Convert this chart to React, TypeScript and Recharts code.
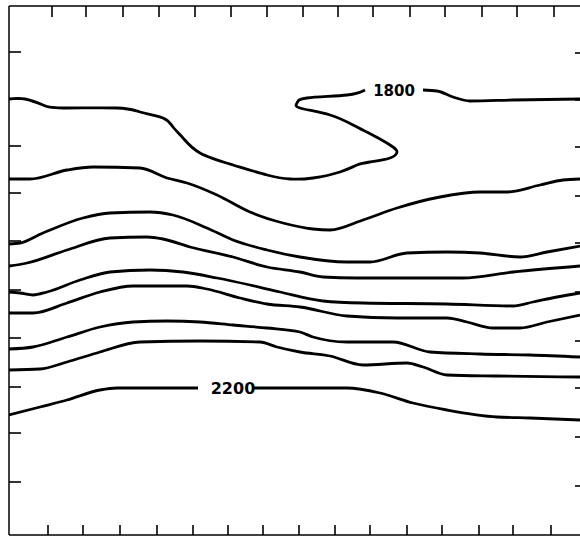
import React from "react"
import { LineChart, Line, XAxis, YAxis, ReferenceDot } from "recharts"

// contour lines, x/y in map units (y grows downward)
const c1800a = [
  { x: 0, y: 9.3 }, { x: 1.6, y: 9.3 }, { x: 3.4, y: 9.9 }, { x: 5.4, y: 10.2 },
  { x: 10.8, y: 10.2 }, { x: 13.1, y: 10.6 }, { x: 15.4, y: 11.2 }, { x: 16.4, y: 12.1 },
  { x: 17.4, y: 13.2 }, { x: 19.1, y: 14.7 }, { x: 22.4, y: 15.9 }, { x: 25.8, y: 16.9 },
  { x: 28.1, y: 17.3 }, { x: 30.4, y: 17.2 }, { x: 33.1, y: 16.6 }, { x: 34.8, y: 15.9 },
  { x: 36.1, y: 15.6 }, { x: 38.1, y: 15.2 }, { x: 38.8, y: 14.6 }, { x: 38.4, y: 14.1 },
  { x: 37.1, y: 13.3 }, { x: 34.8, y: 12.1 }, { x: 32.1, y: 10.9 }, { x: 29.1, y: 10.2 },
  { x: 28.8, y: 9.7 }, { x: 29.8, y: 9.2 }, { x: 33.8, y: 8.9 }, { x: 35.6, y: 8.4 },
]
const c1800b = [
  { x: 41.4, y: 8.4 }, { x: 42.8, y: 8.5 }, { x: 44.4, y: 9.1 }, { x: 46.1, y: 9.5 },
  { x: 50.4, y: 9.4 }, { x: 57.1, y: 9.3 },
]
const c1850 = [
  { x: 0, y: 17.3 }, { x: 2.1, y: 17.3 }, { x: 5.8, y: 16.4 }, { x: 8.4, y: 16.1 },
  { x: 13.1, y: 16.2 }, { x: 15.8, y: 17.2 }, { x: 17.8, y: 17.7 }, { x: 20.8, y: 18.9 },
  { x: 24.1, y: 20.6 }, { x: 27.4, y: 21.7 }, { x: 30.4, y: 22.3 }, { x: 32.1, y: 22.4 },
  { x: 35.4, y: 21.4 }, { x: 38.8, y: 20.2 }, { x: 43.1, y: 19.1 }, { x: 47.1, y: 18.6 },
  { x: 49.8, y: 18.6 }, { x: 53.1, y: 17.9 }, { x: 55.4, y: 17.4 }, { x: 57.1, y: 17.3 },
]
const c1900 = [
  { x: 0, y: 23.8 }, { x: 1.1, y: 23.7 }, { x: 3.4, y: 22.7 }, { x: 7.4, y: 21.2 },
  { x: 10.1, y: 20.7 }, { x: 14.1, y: 20.6 }, { x: 16.4, y: 20.9 }, { x: 19.8, y: 22.2 },
  { x: 22.4, y: 23.4 }, { x: 25.8, y: 24.4 }, { x: 29.1, y: 25.1 }, { x: 33.8, y: 25.6 },
  { x: 36.1, y: 25.6 }, { x: 39.8, y: 24.7 }, { x: 43.8, y: 24.6 }, { x: 47.1, y: 24.7 },
  { x: 51.1, y: 25.1 }, { x: 53.8, y: 24.6 }, { x: 57.1, y: 24.0 },
]
const c1950 = [
  { x: 0, y: 26.0 }, { x: 1.8, y: 25.7 }, { x: 5.8, y: 24.4 }, { x: 10.1, y: 23.2 },
  { x: 13.8, y: 23.1 }, { x: 15.4, y: 23.3 }, { x: 18.1, y: 24.1 }, { x: 22.4, y: 25.1 },
  { x: 25.8, y: 26.1 }, { x: 29.1, y: 26.6 }, { x: 31.4, y: 27.1 }, { x: 34.8, y: 27.2 },
  { x: 40.4, y: 27.2 }, { x: 45.4, y: 27.2 }, { x: 50.4, y: 26.6 }, { x: 57.1, y: 26.0 },
]
const c2000 = [
  { x: 0, y: 28.6 }, { x: 1.1, y: 28.7 }, { x: 2.4, y: 28.9 }, { x: 3.8, y: 28.6 },
  { x: 7.1, y: 27.4 }, { x: 10.1, y: 26.6 }, { x: 14.1, y: 26.4 }, { x: 17.4, y: 26.6 },
  { x: 20.8, y: 27.2 }, { x: 24.1, y: 27.9 }, { x: 27.1, y: 28.6 }, { x: 31.4, y: 29.5 },
  { x: 35.4, y: 29.7 }, { x: 43.8, y: 29.8 }, { x: 50.4, y: 30.0 }, { x: 52.4, y: 29.6 },
  { x: 54.8, y: 29.1 }, { x: 57.1, y: 28.7 },
]
const c2050 = [
  { x: 0, y: 30.7 }, { x: 2.4, y: 30.7 }, { x: 5.8, y: 29.7 }, { x: 9.1, y: 28.6 },
  { x: 12.4, y: 28.0 }, { x: 17.8, y: 28.0 }, { x: 19.8, y: 28.3 }, { x: 23.1, y: 29.2 },
  { x: 25.8, y: 29.8 }, { x: 29.1, y: 30.1 }, { x: 33.8, y: 31.0 }, { x: 38.8, y: 31.2 },
  { x: 43.8, y: 31.2 }, { x: 45.8, y: 31.6 }, { x: 48.4, y: 32.2 }, { x: 51.1, y: 32.2 },
  { x: 53.8, y: 31.6 }, { x: 57.1, y: 30.9 },
]
const c2100 = [
  { x: 0, y: 34.3 }, { x: 2.4, y: 34.1 }, { x: 5.8, y: 33.1 }, { x: 9.1, y: 32.1 },
  { x: 12.4, y: 31.6 }, { x: 15.8, y: 31.5 }, { x: 19.1, y: 31.6 }, { x: 22.4, y: 31.9 },
  { x: 25.8, y: 32.2 }, { x: 29.1, y: 32.6 }, { x: 30.4, y: 33.1 }, { x: 33.8, y: 33.6 },
  { x: 38.4, y: 33.6 }, { x: 42.1, y: 34.6 }, { x: 47.1, y: 34.8 }, { x: 52.1, y: 34.9 },
  { x: 57.1, y: 35.1 },
]
const c2150 = [
  { x: 0, y: 36.4 }, { x: 3.1, y: 36.3 }, { x: 5.8, y: 35.6 }, { x: 9.1, y: 34.6 },
  { x: 13.1, y: 33.6 }, { x: 19.1, y: 33.5 }, { x: 25.1, y: 33.6 }, { x: 26.8, y: 34.1 },
  { x: 29.1, y: 34.6 }, { x: 32.1, y: 35.0 }, { x: 35.4, y: 35.9 }, { x: 39.8, y: 35.7 },
  { x: 41.4, y: 36.1 }, { x: 43.8, y: 36.9 }, { x: 48.8, y: 37.0 }, { x: 57.1, y: 37.1 },
]
const c2200a = [
  { x: 0, y: 40.9 }, { x: 3.1, y: 40.1 }, { x: 5.8, y: 39.4 }, { x: 9.1, y: 38.4 },
  { x: 10.8, y: 38.2 }, { x: 18.9, y: 38.2 },
]
const c2200b = [
  { x: 24.4, y: 38.2 }, { x: 33.8, y: 38.2 }, { x: 37.1, y: 38.7 }, { x: 40.4, y: 39.7 },
  { x: 43.8, y: 40.4 }, { x: 48.8, y: 41.1 }, { x: 52.1, y: 41.2 }, { x: 57.1, y: 41.4 },
]

const topTicks = [4.3, 7.7, 11.4, 15.0, 18.6, 22.2, 25.8, 29.4, 32.9, 36.4, 40.1, 43.6, 47.3, 50.8, 54.5]
const bottomTicks = [3.9, 7.4, 11.1, 14.8, 18.4, 21.9, 25.4, 29.0, 32.6, 36.1, 39.8, 43.3, 47.0, 50.4, 54.2]
const leftTicks = [4.6, 9.3, 14.0, 18.7, 23.5, 28.4, 33.2, 38.1, 42.7, 47.6]
const rightTicks = [4.7, 9.4, 14.1, 19.0, 23.7, 28.6, 33.5, 38.2, 43.1, 48.0]

const labels = [
  { text: "1800", x: 38.5, y: 8.5, size: 15, weight: 600 },
  { text: "2200", x: 22.4, y: 38.2, size: 16, weight: 700 },
]

const X_DOMAIN: [number, number] = [0, 57.1]
const Y_DOMAIN: [number, number] = [0, 52.9]

const lines = [
  { key: "c1800a", data: c1800a, curve: "natural" },
  { key: "c1800b", data: c1800b, curve: "monotone" },
  { key: "c1850", data: c1850, curve: "monotone" },
  { key: "c1900", data: c1900, curve: "monotone" },
  { key: "c1950", data: c1950, curve: "monotone" },
  { key: "c2000", data: c2000, curve: "monotone" },
  { key: "c2050", data: c2050, curve: "monotone" },
  { key: "c2100", data: c2100, curve: "monotone" },
  { key: "c2150", data: c2150, curve: "monotone" },
  { key: "c2200a", data: c2200a, curve: "monotone" },
  { key: "c2200b", data: c2200b, curve: "monotone" },
]

// layout
const CHART_W = 581
const CHART_H = 536
const MARGIN = { top: 5, right: 1, bottom: 0, left: 8 }
const AXIS_T = 1
const PLOT_TOP = MARGIN.top + AXIS_T
const PLOT_W = CHART_W - MARGIN.left - MARGIN.right - AXIS_T
const PLOT_H = CHART_H - MARGIN.top - MARGIN.bottom - 2 * AXIS_T
const KX = PLOT_W / (X_DOMAIN[1] - X_DOMAIN[0])
const KY = PLOT_H / (Y_DOMAIN[1] - Y_DOMAIN[0])

const frame = { stroke: "#000", strokeWidth: 1.5 }
const tickStroke = { stroke: "#000", strokeWidth: 1.6 }

// find which tick this is: by its value first, index as fallback
const tickIndex = (arr: number[], props: any) => {
  const v = props.payload ? Number(props.payload.value) : NaN
  let best = -1
  let bestD = Infinity
  arr.forEach((t, j) => {
    const d = Math.abs(t - v)
    if (d < bestD) {
      bestD = d
      best = j
    }
  })
  if (best >= 0 && bestD < 0.05) return best
  return typeof props.index === "number" ? props.index : 0
}

// bottom ticks point up; the matching top tick is drawn alongside
const BottomTopTick = (props: any) => {
  const i = tickIndex(bottomTicks, props)
  const shift = (topTicks[i] ?? bottomTicks[i] ?? 0) - (bottomTicks[i] ?? 0)
  const topX = props.x + shift * KX
  return (
    <g>
      <line x1={props.x} y1={props.y} x2={props.x} y2={props.y - 10} {...tickStroke} />
      <line x1={topX} y1={PLOT_TOP} x2={topX} y2={PLOT_TOP + 11} {...tickStroke} />
    </g>
  )
}

// left ticks point right; the matching right tick is drawn alongside
const LeftRightTick = (props: any) => {
  const i = tickIndex(leftTicks, props)
  const shift = (rightTicks[i] ?? leftTicks[i] ?? 0) - (leftTicks[i] ?? 0)
  const rightY = props.y + shift * KY
  const rightX = props.x + PLOT_W
  return (
    <g>
      <line x1={props.x} y1={props.y} x2={props.x + 12} y2={props.y} {...tickStroke} />
      <line x1={rightX - 5} y1={rightY} x2={rightX} y2={rightY} {...tickStroke} />
    </g>
  )
}

export default function App() {
  return (
    <div style={{ position: "absolute", left: 0, top: 0, width: 580, height: 536, overflow: "hidden", background: "#fff" }}>
      <LineChart width={CHART_W} height={CHART_H} margin={MARGIN}>
        <XAxis
          xAxisId="b"
          type="number"
          dataKey="x"
          domain={X_DOMAIN}
          ticks={bottomTicks}
          orientation="bottom"
          height={AXIS_T}
          tick={BottomTopTick}
          tickSize={0}
          tickMargin={0}
          axisLine={frame}
          tickLine={false}
          interval={0}
          allowDataOverflow
        />
        <XAxis
          xAxisId="t"
          type="number"
          dataKey="x"
          domain={X_DOMAIN}
          orientation="top"
          height={AXIS_T}
          tick={false}
          axisLine={frame}
          tickLine={false}
          allowDataOverflow
        />
        <YAxis
          yAxisId="l"
          type="number"
          domain={Y_DOMAIN}
          reversed
          ticks={leftTicks}
          orientation="left"
          width={AXIS_T}
          tick={LeftRightTick}
          tickSize={0}
          tickMargin={0}
          axisLine={frame}
          tickLine={false}
          interval={0}
          allowDataOverflow
        />
        {lines.map((l) => (
          <Line
            key={l.key}
            xAxisId="b"
            yAxisId="l"
            data={l.data}
            dataKey="y"
            type={l.curve as any}
            stroke="#000"
            strokeWidth={2.8}
            dot={false}
            activeDot={false}
            isAnimationActive={false}
          />
        ))}
        {labels.map((lb) => (
          <ReferenceDot
            key={lb.text}
            xAxisId="b"
            yAxisId="l"
            x={lb.x}
            y={lb.y}
            r={0}
            stroke="none"
            fill="none"
            label={{
              value: lb.text,
              position: "center",
              fill: "#000",
              fontSize: lb.size,
              fontWeight: lb.weight,
              fontFamily: "DejaVu Sans, sans-serif",
            }}
          />
        ))}
      </LineChart>
    </div>
  )
}
